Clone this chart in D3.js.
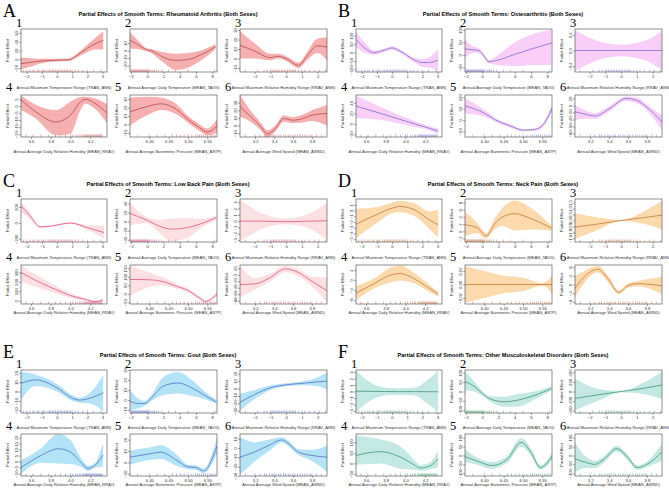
<!DOCTYPE html>
<html>
<head>
<meta charset="utf-8">
<script src="https://cdn.jsdelivr.net/npm/d3@7"></script>
<style>
body { margin: 0; background: #fff; }
svg { display: block; }
</style>
</head>
<body>
<svg id="fig" width="669" height="498"></svg>
<script>
// panel letters, disease names and colours
var letters = ["A", "B", "C", "D", "E", "F"];
var diseases = ["Rheumatoid Arthritis", "Osteoarthritis", "Low Back Pain", "Neck Pain", "Gout", "Other Musculoskeletal Disorders"];
var bandColors = ["#f7b0b0", "#f9cff9", "#fde0e2", "#fdd9ae", "#b3e3f7", "#c4e8e3"];
var lineColors = ["#b5484b", "#7b6fd0", "#e2508a", "#c77a33", "#4e72c4", "#3e9a72"];
var rugColors = ["#d04545", "#6f5fd0", "#d8347a", "#cc5a1a", "#3a5ad0", "#2e9a5a"];

// the six smooth terms (same in every panel)
var xLabels = [
	"Annual Maximum Temperature Range (TRAN_ANN)",
	"Annual Average Daily Temperature (MEAN_TAVG)",
	"Annual Maximum Relative Humidity Range (RRAV_ANN)",
	"Annual Average Daily Relative Humidity (MEAN_RRAV)",
	"Annual Average Barometric Pressure (MEAN_ASTP)",
	"Annual Average Wind Speed (MEAN_AWND)"
];
var xDomains = [[-2.38, 3.3], [-2.12, 8.58], [-2.93, 2.6], [3.5, 4.37], [6.35, 6.575], [3.04, 3.96]];
var xTicks = [[-2, -1, 0, 1, 2, 3], [-2, 0, 2, 4, 6, 8], [-2, -1, 0, 1, 2], [3.6, 3.8, 4.0, 4.2], [6.40, 6.45, 6.50, 6.55], [3.2, 3.4, 3.6, 3.8]];

// rug (observed values of each term)
var rugs = [
	[-2.2, -2.0, -1.8, -1.6, -1.5, -1.3, -1.2, -1.0, -0.9, -0.8, -0.6, -0.5, -0.4, -0.3, -0.2, -0.1, 0, 0.1, 0.2, 0.3, 0.4, 0.5, 0.6, 0.7, 0.8, 0.9, 1.0, 1.2, 1.4, 1.7, 2.0, 2.4, 2.9],
	[-2.0, -1.9, -1.8, -1.7, -1.6, -1.5, -1.4, -1.3, -1.2, -1.1, -1.0, -0.9, -0.8, -0.7, -0.6, -0.5, -0.4, -0.3, -0.2, -0.1, 0, 0.1, 0.2, 0.3, 0.5, 0.7, 0.9, 1.1, 1.4, 1.8, 2.6, 3.5, 5.0, 8.3],
	[-2.6, -1.8, -1.4, -1.2, -1.0, -0.9, -0.8, -0.7, -0.6, -0.5, -0.4, -0.3, -0.2, -0.1, 0, 0.1, 0.2, 0.3, 0.4, 0.5, 0.6, 0.8, 1.0, 1.2, 1.5, 1.8, 2.1, 2.5],
	[3.55, 3.62, 3.7, 3.78, 3.85, 3.9, 3.95, 4.0, 4.02, 4.05, 4.07, 4.09, 4.1, 4.12, 4.13, 4.14, 4.15, 4.16, 4.17, 4.18, 4.19, 4.2, 4.21, 4.22, 4.23, 4.24, 4.25, 4.26, 4.27, 4.28, 4.29, 4.3, 4.31, 4.32],
	[6.37, 6.40, 6.42, 6.44, 6.46, 6.47, 6.48, 6.49, 6.50, 6.51, 6.52, 6.525, 6.53, 6.535, 6.54, 6.545, 6.55, 6.555, 6.56, 6.565, 6.57],
	[3.1, 3.2, 3.25, 3.3, 3.32, 3.35, 3.38, 3.4, 3.42, 3.45, 3.47, 3.5, 3.52, 3.55, 3.57, 3.6, 3.62, 3.65, 3.68, 3.7, 3.72, 3.75, 3.78, 3.8, 3.85, 3.9]
];

// A  Rheumatoid Arthritis: [x, fit, lower, upper]
var raCurves = [
	[[-2.38, -10, -23, 4], [-1.5, -6, -14, 2], [-1, -4, -9, 1], [0, -2, -5, 1], [0.8, -1, -4, 2], [1.2, 6, 2, 10], [2, 25, 16, 33], [2.5, 35, 22, 48], [3.05, 43, 22, 64]],
	[[-2.12, 14, 3, 25], [-1, 7, 2, 12], [0, 1, -1, 3], [0.5, 0, -3, 2.5], [1, -3, -7, 0.5], [2, -9, -16, -2], [3.5, -13, -26, -4], [5, -12, -23, -3], [6.5, -6, -14, 0], [8.4, 5, 2, 9]],
	[[-2.93, 14, 0, 29], [-2, 8, 0, 16], [-1, 1, -2, 5], [-0.5, 2.5, 0, 5], [0, 0, -2.5, 2.5], [0.8, -7, -10, -4], [1.3, 2, -2, 6], [2, 13.5, 6, 21], [2.6, 12, -2, 22]],
	[[3.5, 4.4, -2.8, 7.6], [3.65, -4, -9, 1], [3.85, -11.2, -20.8, -2.8], [4.0, -6.4, -19.6, 3.2], [4.1, 3, -3, 6.5], [4.15, 5, 2, 6.8], [4.25, 2, -2, 5.5], [4.37, -5, -12, 1.5]],
	[[6.35, 15, -1, 32], [6.40, 22, 12, 33], [6.43, 24.5, 17, 32], [6.47, 18, 12, 24], [6.50, 6, 2, 10], [6.53, -4, -8, 0], [6.55, -9, -13, -5], [6.575, -2, -10, 6]],
	[[3.04, 24.6, 11.4, 40], [3.15, 12, 5, 20], [3.25, 0, -5, 5], [3.33, -10.6, -15, -6], [3.42, -3, -7, 1], [3.5, 9.2, 5, 13], [3.6, 7, 3, 11], [3.7, 9, 4, 14], [3.8, 13.6, 6, 20], [3.96, 15.8, 0, 27]]
];
var raYDomains = [[-29, 69], [-28.6, 29], [-14, 31], [-22, 8], [-15, 35], [-15, 40]];
var raYTicks = [[60, 40, 20, 0, -20], [10, 0, -10, -20], [30, 20, 10, 0, -10], [5, 0, -5, -10, -15, -20], [30, 20, 10, 0, -10], [30, 20, 10, 0, -10]];

// B  Osteoarthritis
var oaCurves = [
	[[-2.38, 79, 33, 125], [-1.7, 20, -5, 50], [-1.2, 0, -13, 13], [-0.5, 15, 3, 25], [0, 28, 17, 38], [0.6, 5, -5, 15], [1.5, -45, -60, -32], [2, -59, -85, -38], [2.5, -58, -90, -25], [3.05, -44, -110, 23]],
	[[-2.12, 24, -12, 60], [-1, 20, 10, 32], [-0.4, 17, 8, 26], [0.3, -8, -16, 0], [0.8, -27, -34, -20], [2, -20, -40, 2], [4, 2, -45, 50], [6, 23, -40, 80], [8.5, 47, -40, 100]],
	[[-2.93, 0, -0.53, 0.52], [-1.5, 0, -0.25, 0.25], [0, 0, -0.15, 0.15], [1.5, 0, -0.25, 0.25], [2.6, 0, -0.5, 0.5]],
	[[3.5, 34, 11, 54], [3.8, 17, 6, 28], [4.0, 5.3, -2, 12], [4.2, -6, -10, -2], [4.33, -13.8, -18.6, -9]],
	[[6.35, 62, 28, 95], [6.40, 30, 15, 45], [6.43, -1, -9, 7], [6.47, -28, -35, -21], [6.50, -45, -50, -40], [6.53, -42, -48, -36], [6.55, -25, -33, -17], [6.575, 51, 36, 66]],
	[[3.04, -18, -42, 1], [3.15, -25, -37, -14], [3.25, -30, -38, -22], [3.4, -10, -17, -3], [3.58, 20, 13, 26], [3.7, 14, 6, 22], [3.8, -5, -14, 3], [3.96, -47, -71, -28]]
];
var oaYDomains = [[-115, 140], [-68, 103], [-0.55, 0.55], [-25, 55], [-75, 110], [-90, 30]];
var oaYTicks = [[100, 50, 0, -50, -100], [100, 50, 0, -50], [0.4, 0.0, -0.4], [40, 20, 0, -20], [100, 50, 0, -50], [20, 0, -20, -40, -60, -80]];

// C  Low Back Pain
var lbpCurves = [
	[[-2.38, 214, 133, 262], [-1.8, 90, 50, 130], [-1.1, -51, -64, -38], [-0.5, -43, -52, -34], [0.9, -2, -14, 10], [2, -60, -90, -30], [3.1, -121, -197, -35]],
	[[-2.12, 18, -8, 42], [0, 3, -3, 9], [1.5, -10, -25, 4], [3, -16.5, -43, 7], [5, -13, -35, 8], [7, -2, -10, 6], [8.5, 9, 4, 14]],
	[[-2.93, 0, -3.2, 3.4], [-1.5, 0, -1.2, 1.2], [0, -0.1, -0.5, 0.4], [1.5, 0, -1.2, 1.2], [2.6, 0.05, -3.0, 2.9]],
	[[3.5, 300, 200, 375], [3.7, 190, 130, 250], [3.85, 120, 80, 160], [4.0, 55, 30, 80], [4.15, 15, 0, 30], [4.25, -10, -20, 2], [4.33, 8, -12, 28]],
	[[6.35, 85, -14, 165], [6.40, 83, 40, 126], [6.43, 75, 50, 100], [6.47, 45, 30, 60], [6.50, 20, 8, 32], [6.53, -25, -35, -15], [6.545, -45, -52, -38], [6.575, -2, -15, 12]],
	[[3.04, -30, -70, 28], [3.2, -28, -45, -10], [3.35, -10, -22, 2], [3.52, 18, 8, 27], [3.65, 8, -3, 18], [3.8, -20, -35, -5], [3.96, -49, -85, -8]]
];
var lbpYDomains = [[-240, 300], [-45, 50], [-3.3, 3.5], [-35, 380], [-60, 170], [-90, 30]];
var lbpYTicks = [[200, 0, -200], [40, 20, 0, -20, -40], [3, 2, 1, 0, -1, -2, -3], [300, 200, 100, 0], [150, 100, 50, 0, -50], [20, 0, -20, -40, -60, -80]];

// D  Neck Pain
var npCurves = [
	[[-2.38, -2.4, -4.8, 0.3], [-1, -0.7, -2.2, 0.6], [0, 0.4, -0.5, 1.4], [0.5, 0.7, -0.3, 1.7], [1.5, 0.1, -1, 1.2], [2.5, -1.7, -3.3, -0.2], [3.05, -2.5, -4.7, 0.2]],
	[[-2.12, 1.8, -1.3, 5.4], [-0.5, 0.8, -0.5, 2], [0, -0.5, -1.5, 0.5], [0.5, -1.3, -2, -0.6], [1.5, 2, 0.5, 3.5], [2.5, 4, 1.5, 6.5], [4, 4.9, 0.2, 8.6], [6, 3.5, 0.5, 6.5], [8.5, 0.9, 0.2, 1.6]],
	[[-2.93, -0.55, -1.55, 0.6], [-1.5, -0.3, -0.8, 0.25], [0, 0, -0.05, 0.05], [1.5, 0.25, -0.3, 0.8], [2.6, 0.45, -0.75, 1.65]],
	[[3.5, -5.2, -7.8, -2.4], [3.7, -1, -3, 1], [3.85, 2, -1, 5], [3.95, 2.6, -0.2, 5.7], [4.1, 0.3, -1.5, 2.5], [4.25, -3.5, -5, -2], [4.33, -5.5, -6.5, -4.5]],
	[[6.35, 0, -0.027, 0.027], [6.40, 0, -0.02, 0.02], [6.45, 0, -0.013, 0.013], [6.50, 0, -0.01, 0.01], [6.55, 0, -0.002, 0.002], [6.575, 0, -0.013, 0.013]],
	[[3.04, -1.8, -6, 4], [3.15, 4, 1.5, 6.5], [3.28, 7, 5.5, 8.5], [3.4, 2, 0.5, 3.5], [3.5, -3.6, -4.5, -2.7], [3.6, -0.5, -1.5, 0.5], [3.7, 0.4, -0.8, 1.6], [3.96, -0.6, -4.5, 3.6]]
];
var npYDomains = [[-5.5, 2], [-3, 9], [-1.8, 1.8], [-9.5, 6], [-0.029, 0.029], [-9, 9]];
var npYTicks = [[1, 0, -1, -2, -3, -4, -5], [8, 6, 4, 2, 0, -2], [1.5, 1.0, 0.5, 0.0, -0.5, -1.0, -1.5], [4, 0, -4, -8], [0.02, 0.00, -0.02], [8, 4, 0, -4, -8]];

// E  Gout
var goutCurves = [
	[[-2.38, 8.7, -9, 21], [-1.4, 12.4, 6, 18], [0, 4, 0, 8], [1, -7, -10, -4], [1.5, -9.2, -12, -6.5], [2.2, -7, -13, -1], [3.05, -1.4, -21, 17.5]],
	[[-2.12, -1.4, -10.4, 9.8], [-1, -3.5, -8, 1], [-0.3, -3.5, -6, -1], [0.5, 2, -1, 5], [2, 14, 5, 23], [3.8, 17, 6.5, 28], [5.5, 12, 4, 20], [7, 5, 1, 9], [8.5, -2, -4, 0]],
	[[-2.93, -18.5, -29.5, -7], [-2, -8, -14, -2], [-1, 1, -2, 4], [0, 5, 3, 7], [1, 7, 4.5, 9.5], [2, 9, 3, 15], [2.6, 10, -1, 21.5]],
	[[3.5, -5, -10.6, 1], [3.7, 5, -1, 11], [3.88, 10.7, -1.5, 23], [4.0, 8, -2, 18], [4.1, 0, -4, 4], [4.18, -5.7, -8, -3.5], [4.25, -3, -5, -1], [4.33, 5.5, -4.3, 16]],
	[[6.35, 4.6, -2, 10.5], [6.40, 7.5, 2, 13], [6.43, 9, 3, 15], [6.47, 2, -3, 7], [6.50, -4, -6, -2], [6.52, -4.5, -6.5, -2.5], [6.54, -7.5, -9.5, -5.5], [6.575, 14.5, 7.5, 22]],
	[[3.04, -9.8, -29, 11.4], [3.2, -4, -14, 6], [3.35, 3, -3, 9], [3.48, 8.7, 6, 11.4], [3.55, 5, 2, 8], [3.65, -4, -7, -1], [3.8, -8, -14, -2], [3.96, -9.8, -25.5, 2.4]]
];
var goutYDomains = [[-23, 23], [-13, 30], [-33, 25], [-12, 23], [-12, 25], [-30, 15]];
var goutYTicks = [[20, 10, 0, -10, -20], [30, 20, 10, 0, -10], [20, 10, 0, -10, -20, -30], [20, 15, 10, 5, 0, -5, -10], [20, 10, 0, -10], [10, 0, -10, -20, -30]];

// F  Other Musculoskeletal Disorders
var omsCurves = [
	[[-2.38, 0.05, -3.1, 3.2], [-1.5, 0.02, -1.5, 1.5], [-0.5, 0, -0.6, 0.6], [0.5, -0.02, -0.5, 0.5], [1.5, -0.02, -0.6, 0.6], [2.3, -0.03, -1.8, 1.7], [3.05, -0.05, -3.1, 3.2]],
	[[-2.12, 53, 7, 106], [-1, 28, 0, 55], [0, -10, -22, 2], [1, -40, -55, -25], [2.7, -55, -82, -28], [4.5, -45, -80, -12], [6.5, -20, -42, 2], [8.5, 16, 5, 27]],
	[[-2.93, -144, -396, 270], [-1.5, -70, -200, 60], [0, 0, -15, 15], [1.5, 70, -60, 200], [2.6, 135, -153, 414]],
	[[3.5, 38, -6, 132], [3.75, 56, 0, 115], [3.95, 30, -25, 80], [4.1, -10, -30, 12], [4.15, -22, -35, -8], [4.25, -12, -28, 4], [4.33, 22, -20, 60]],
	[[6.35, -7, -40, 35], [6.38, -30, -50, -10], [6.42, -56, -75, -37], [6.46, -20, -40, 0], [6.495, 73, 48, 97], [6.52, 20, 0, 40], [6.545, -68, -80, -55], [6.575, -5, -25, 15]],
	[[3.04, -19, -94, 73], [3.15, -38, -70, -5], [3.25, -50, -70, -30], [3.35, -20, -38, -2], [3.48, 38, 22, 54], [3.58, 0, -15, 15], [3.7, -68, -80, -55], [3.8, -50, -65, -35], [3.96, 19, -30, 65]]
];
var omsYDomains = [[-3.3, 3.3], [-115, 115], [-450, 450], [-60, 140], [-115, 120], [-115, 120]];
var omsYTicks = [[3, 2, 1, 0, -1, -2, -3], [100, 50, 0, -50, -100], [400, 200, 0, -200, -400], [100, 50, 0, -50], [100, 50, 0, -50, -100], [100, 50, 0, -50, -100]];

var panels = [
	{curves: raCurves, yDom: raYDomains, yTicks: raYTicks},
	{curves: oaCurves, yDom: oaYDomains, yTicks: oaYTicks},
	{curves: lbpCurves, yDom: lbpYDomains, yTicks: lbpYTicks},
	{curves: npCurves, yDom: npYDomains, yTicks: npYTicks},
	{curves: goutCurves, yDom: goutYDomains, yTicks: goutYTicks},
	{curves: omsCurves, yDom: omsYDomains, yTicks: omsYTicks}
];

// layout
var colX = [0, 335];
var rowY = [0, 170, 341];
var boxX = [[21, 107], [130, 217], [240, 327]];
// per panel row: box top/bottom of plot row 1 and 2, and x-label offset below each
var rowBoxes = [
	[[29, 72], [95, 137]],
	[[29, 72], [95, 134]],
	[[29, 72], [93, 135]]
];
var xlOffsets = [[16.5, 16], [16.5, 9.8], [16, 10]];

var sans = "'Liberation Sans', Arial, sans-serif";
var serif = "'Liberation Serif', 'Times New Roman', serif";

var svg = d3.select("#fig");

function decimals(ticks) {
	var d = 0;
	ticks.forEach(function(t) {
		var s = String(t);
		if (s.indexOf(".") >= 0) d = Math.max(d, s.split(".")[1].length);
	});
	return d;
}
function tickFmt(ticks) {
	var d = decimals(ticks);
	return function(v) { return d3.format("." + d + "f")(v); };
}

panels.forEach(function(p, i) {
	var pr = Math.floor(i / 2);
	var g = svg.append("g")
		.attr("transform", "translate(" + colX[i % 2] + "," + rowY[pr] + ")");

	g.append("text")
		.attr("x", 3).attr("y", 17)
		.style("font-family", serif).style("font-size", "18px")
		.text(letters[i]);

	g.append("text")
		.attr("x", 168).attr("y", 15.5)
		.attr("text-anchor", "middle")
		.style("font-family", sans).style("font-size", "5.6px").style("font-weight", "bold")
		.text("Partial Effects of Smooth Terms: " + diseases[i] + " (Both Sexes)");

	for (var k = 0; k < 6; k++) {
		var row = k < 3 ? 0 : 1, col = k % 3;
		var bx = boxX[col], by = rowBoxes[pr][row];
		var x = d3.scaleLinear().domain(xDomains[k]).range([bx[0], bx[1]]);
		var y = d3.scaleLinear().domain(p.yDom[k]).range([by[1], by[0]]);
		var id = "clip" + i + "_" + k;

		g.append("clipPath").attr("id", id)
			.append("rect")
			.attr("x", bx[0]).attr("y", by[0])
			.attr("width", bx[1] - bx[0]).attr("height", by[1] - by[0]);

		var plot = g.append("g").attr("clip-path", "url(#" + id + ")");

		var area = d3.area()
			.x(function(d) { return x(d[0]); })
			.y0(function(d) { return y(d[2]); })
			.y1(function(d) { return y(d[3]); })
			.curve(d3.curveMonotoneX);
		var line = d3.line()
			.x(function(d) { return x(d[0]); })
			.y(function(d) { return y(d[1]); })
			.curve(d3.curveMonotoneX);

		plot.append("path").datum(p.curves[k])
			.attr("d", area)
			.attr("fill", bandColors[i]);

		plot.selectAll("line.rug").data(rugs[k]).enter()
			.append("line").attr("class", "rug")
			.attr("x1", function(d) { return x(d); })
			.attr("x2", function(d) { return x(d); })
			.attr("y1", by[1]).attr("y2", by[1] - 2.5)
			.attr("stroke", rugColors[i]).attr("stroke-width", 0.5).attr("opacity", 0.85);

		plot.append("path").datum(p.curves[k])
			.attr("d", line)
			.attr("fill", "none")
			.attr("stroke", lineColors[i]).attr("stroke-width", 0.8);

		g.append("rect")
			.attr("x", bx[0]).attr("y", by[0])
			.attr("width", bx[1] - bx[0]).attr("height", by[1] - by[0])
			.attr("fill", "none").attr("stroke", "#444").attr("stroke-width", 0.6);

		var xa = g.append("g")
			.attr("transform", "translate(0," + by[1] + ")")
			.call(d3.axisBottom(x).tickValues(xTicks[k]).tickSize(2).tickPadding(1.2).tickFormat(tickFmt(xTicks[k])));
		xa.select(".domain").remove();
		xa.selectAll("line").attr("stroke", "#444").attr("stroke-width", 0.5);
		xa.selectAll("text").style("font-family", sans).style("font-size", "4.2px").attr("fill", "#333");

		var yt = p.yTicks[k].filter(function(t) { return t >= p.yDom[k][0] && t <= p.yDom[k][1]; });
		var ya = g.append("g")
			.attr("transform", "translate(" + bx[0] + ",0)")
			.call(d3.axisLeft(y).tickValues(yt).tickSize(2).tickFormat(tickFmt(p.yTicks[k])));
		ya.select(".domain").remove();
		ya.selectAll("line").attr("stroke", "#444").attr("stroke-width", 0.5);
		ya.selectAll("text")
			.attr("x", 0).attr("dy", 0)
			.attr("text-anchor", "middle")
			.attr("transform", "translate(-3.5,0) rotate(-90)")
			.style("font-family", sans).style("font-size", "4.2px").attr("fill", "#333");

		g.append("text")
			.attr("transform", "translate(" + (bx[0] - 12.5) + "," + ((by[0] + by[1]) / 2) + ") rotate(-90)")
			.attr("text-anchor", "middle")
			.style("font-family", sans).style("font-size", "4.2px").attr("fill", "#333")
			.text("Partial Effect");

		g.append("text")
			.attr("x", (bx[0] + bx[1]) / 2).attr("y", by[1] + xlOffsets[pr][row])
			.attr("text-anchor", "middle")
			.style("font-family", sans).style("font-size", "4.1px").attr("fill", "#333")
			.text(xLabels[k]);

		g.append("text")
			.attr("x", row === 0 ? bx[0] - 5 : bx[0] - 15)
			.attr("y", row === 0 ? by[0] - 2 : by[0] - 4)
			.style("font-family", serif).style("font-size", "12.5px")
			.text(String(k + 1));
	}
});
</script>
</body>
</html>
